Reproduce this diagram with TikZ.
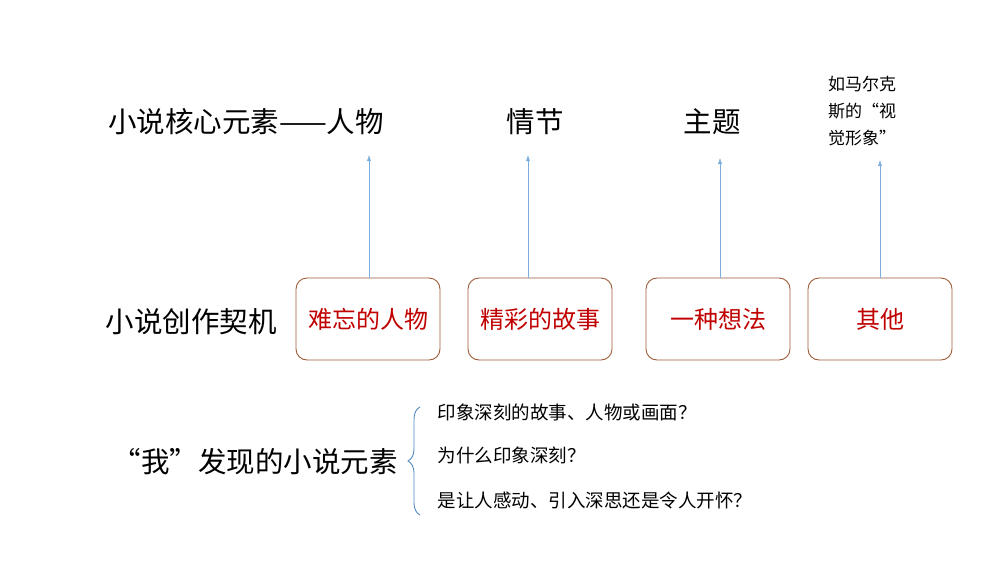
\documentclass[tikz,border=0pt]{standalone}
\usepackage{fontspec}
\setmainfont{Noto Sans CJK SC}
\usetikzlibrary{decorations.pathreplacing,arrows.meta}
\definecolor{bx}{HTML}{9C5A36}
\definecolor{rd}{HTML}{C00000}
\definecolor{bl}{HTML}{5B9BD5}
\begin{document}
\begin{tikzpicture}[x=1pt,y=-1pt,
  big/.style={font=\fontsize{28.5}{32}\selectfont},
  cbox/.style={draw=bx,line width=0.9pt,rounded corners=11pt,minimum width=144pt,minimum height=82pt,font=\fontsize{24}{28}\selectfont,text=rd},
  item/.style={anchor=west,font=\fontsize{18.5}{22}\selectfont},
  up/.style={draw=bl!80,-{Latex[length=6pt,width=4pt]},thin}]
\useasboundingbox (0,0) rectangle (1000,563);
\node[big] (t1) at (246,122) {小说核心元素——人物};
\node[big] (t2) at (535,122) {情节};
\node[big] (t3) at (712,122) {主题};
\node[align=left,anchor=north west,font=\fontsize{17}{27}\selectfont,inner sep=0] (t4) at (828,76) {如马尔克\\斯的“视\\觉形象”};
\node[cbox] (b1) at (368,319) {难忘的人物};
\node[cbox] (b2) at (540,319) {精彩的故事};
\node[cbox] (b3) at (718,319) {一种想法};
\node[cbox] (b4) at (880,319) {其他};
\coordinate (a1) at (369,155);
\coordinate (a2) at (528,155);
\coordinate (a3) at (720,158);
\coordinate (a4) at (880,160);
\draw[up] (b1.north -| a1) -- (a1);
\draw[up] (b2.north -| a2) -- (a2);
\draw[up] (b3.north -| a3) -- (a3);
\draw[up] (b4.north -| a4) -- (a4);
\node[big] (l1) at (191,322) {小说创作契机};
\node[big] (l2) at (255,462) {“我”发现的小说元素};
\coordinate (br1) at (420,515);
\coordinate (br2) at (420,407);
\draw[bl!90!black,line width=0.9pt,decoration={brace,amplitude=12pt},decorate] (br1) -- (br2);
\node[item] (i1) at (434,412) {印象深刻的故事、人物或画面？};
\node[item] (i2) at (434,455) {为什么印象深刻？};
\node[item] (i3) at (434,500) {是让人感动、引入深思还是令人开怀？};
\end{tikzpicture}
\end{document}
